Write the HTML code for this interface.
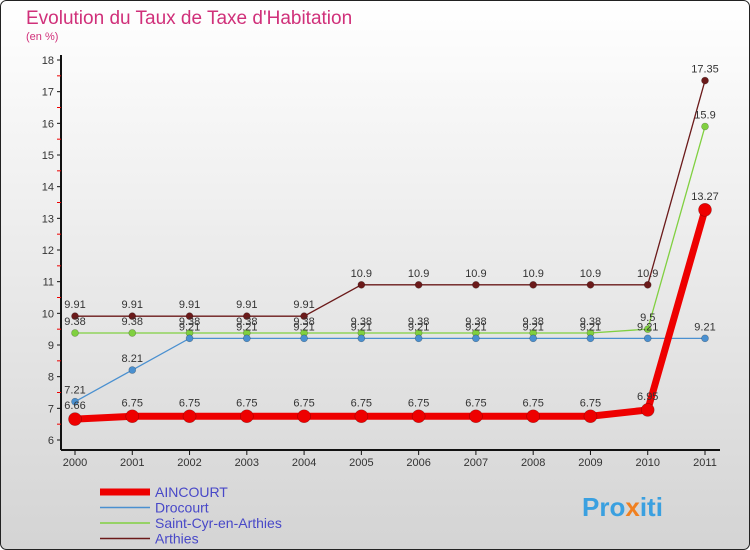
<!DOCTYPE html>
<html><head><meta charset="utf-8"><style>
body{margin:0;}
svg{display:block;font-family:"Liberation Sans",sans-serif;}
</style></head><body>
<svg id="c" width="750" height="550">
<defs><linearGradient id="bg" x1="0" y1="0" x2="0" y2="1"><stop offset="0" stop-color="#ffffff"/><stop offset="1" stop-color="#d4d4d4"/></linearGradient></defs>
<rect x="0.5" y="0.5" width="749" height="549" rx="6" fill="url(#bg)" stroke="#222"/>
<text x="26" y="24" font-size="19" fill="#d0307a">Evolution du Taux de Taxe d'Habitation</text>
<text x="26" y="40" font-size="11" fill="#d0307a">(en %)</text>
<g id="axes"></g><g id="series"></g><g id="legend"></g>
<text x="582" y="516" font-size="26" font-weight="bold" fill="#3aa0e0">Pro<tspan fill="#f08020">x</tspan>iti</text>
</svg>
<script>
const years=[2000,2001,2002,2003,2004,2005,2006,2007,2008,2009,2010,2011];
const yTicks=[6,7,8,9,10,11,12,13,14,15,16,17,18];
const aincourt=[6.66,6.75,6.75,6.75,6.75,6.75,6.75,6.75,6.75,6.75,6.95,13.27];
const drocourt=[7.21,8.21,9.21,9.21,9.21,9.21,9.21,9.21,9.21,9.21,9.21,9.21];
const saintCyr=[9.38,9.38,9.38,9.38,9.38,9.38,9.38,9.38,9.38,9.38,9.5,15.9];
const arthies=[9.91,9.91,9.91,9.91,9.91,10.9,10.9,10.9,10.9,10.9,10.9,17.35];
const names=["AINCOURT","Drocourt","Saint-Cyr-en-Arthies","Arthies"];
const NS="http://www.w3.org/2000/svg";
const X=i=>75+i*(630/11);
const Y=v=>440-(v-6)*(380/12);
function mk(t,a,p){const e=document.createElementNS(NS,t);for(const k in a)e.setAttribute(k,a[k]);p.appendChild(e);return e;}
const ax=document.getElementById('axes');
let l=mk('line',{x1:61,y1:55,x2:61,y2:450,stroke:'#111','stroke-width':2},ax);


l=mk('line',{x1:61,y1:450,x2:720,y2:450,stroke:'#111','stroke-width':2},ax);


yTicks.forEach(v=>{
 mk('line',{x1:57,y1:Y(v),x2:61,y2:Y(v),stroke:'#111'},ax);
 if(v<18)mk('line',{x1:57,y1:Y(v+0.5),x2:61,y2:Y(v+0.5),stroke:'#e00'},ax);
 const t=mk('text',{x:54,y:Y(v)+4,'font-size':11,'text-anchor':'end',fill:'#333'},ax);t.textContent=v;
 
 
});
years.forEach((yr,i)=>{
 mk('line',{x1:X(i),y1:450,x2:X(i),y2:455,stroke:'#111'},ax);
 const t=mk('text',{x:X(i),y:466,'font-size':11,'text-anchor':'middle',fill:'#333'},ax);t.textContent=yr;
 
 
});
const sg=document.getElementById('series');
const cfg=[[arthies,'#6b1a1a',1.3,3.5],[saintCyr,'#80d040',1.3,3.5],[drocourt,'#4a90d0',1.3,3.5],[aincourt,'#ee0000',7,6.5]];
const sn=['arthies','saint-cyr','drocourt','aincourt'];
cfg.forEach((c,k)=>{
 const [d,col,w,r]=c;
 const p=mk('polyline',{points:d.map((v,i)=>X(i)+','+Y(v)).join(' '),fill:'none',stroke:col,'stroke-width':w},sg);
 
 
 d.forEach((v,i)=>{
  const ci=mk('circle',{cx:X(i),cy:Y(v),r:r,fill:col,stroke:'rgba(0,0,0,0.3)','stroke-width':0.6},sg);
  
  
  const t=mk('text',{x:X(i),y:Y(v)-(k==3?10:8),'font-size':11,'text-anchor':'middle',fill:'#333'},sg);
  t.textContent=String(v);
  
  
 });
});
const lg=document.getElementById('legend');
const lc=[['#ee0000',7],['#4a90d0',1.5],['#80d040',1.5],['#6b1a1a',1.5]];
names.forEach((n,i)=>{
 const y=492+i*15.5;
 mk('line',{x1:100,y1:y,x2:150,y2:y,stroke:lc[i][0],'stroke-width':lc[i][1]},lg);
 const t=mk('text',{x:155,y:y+5,'font-size':14,fill:'#4848c8'},lg);t.textContent=n;
 
 
});
</script>
</body></html>
